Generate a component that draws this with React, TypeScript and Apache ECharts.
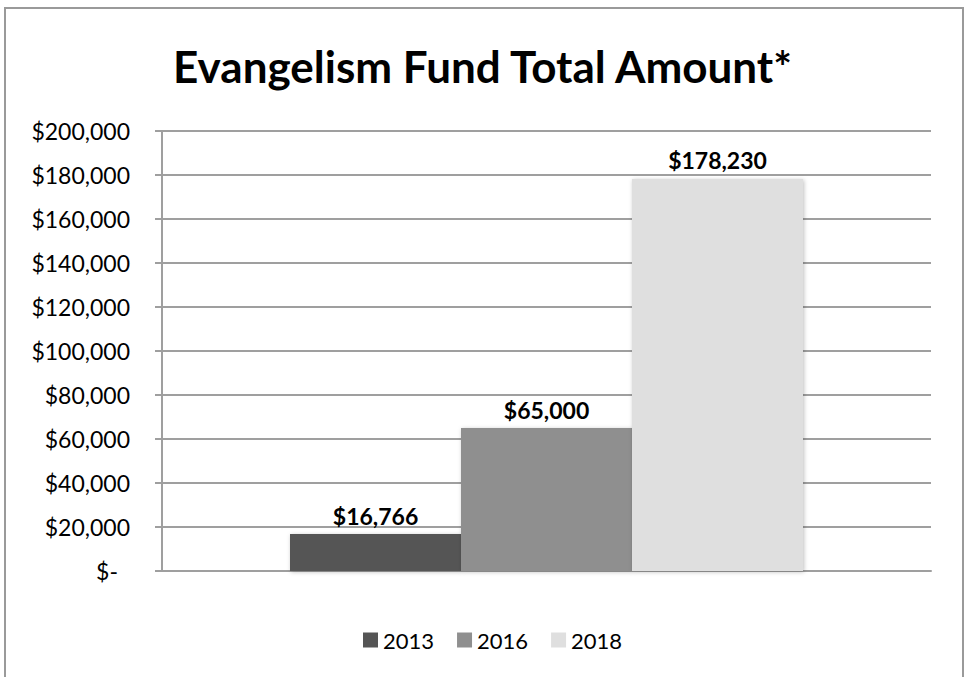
import React, { useEffect, useRef } from "react";
import * as echarts from "echarts";

const titleText = "Evangelism Fund Total Amount*";
const categories = [""];
const seriesNames = ["2013", "2016", "2018"];
const seriesValues = [16766, 65000, 178230];
const seriesColors = ["#555555", "#8f8f8f", "#dfdfdf"];
const yMin = 0;
const yMax = 200000;
const yInterval = 20000;

const FONT = "Lato";

function fmtMoney(v: number): string {
  return "$" + v.toLocaleString("en-US");
}

export default function App() {
  const ref = useRef<HTMLDivElement>(null);
  useEffect(() => {
    if (!ref.current) return;
    const chart = echarts.init(ref.current, null, { renderer: "svg" });
    const option: any = {
      animation: false,
      backgroundColor: "#ffffff",
      textStyle: { fontFamily: FONT, color: "#000" },
      title: {
        text: titleText,
        left: "center",
        top: 39,
        textStyle: { fontFamily: FONT, fontSize: 44, fontWeight: "bold", color: "#000" },
      },
      graphic: [
        {
          type: "rect",
          shape: { x: 5, y: 8, width: 958, height: 720 },
          style: { fill: "none", stroke: "#9a9a9a", lineWidth: 2 },
          z: 100,
          silent: true,
        },
      ],
      legend: {
        left: 358,
        top: 624,
        itemWidth: 15,
        itemHeight: 15,
        itemGap: 23,
        icon: "rect",
        textStyle: { fontFamily: FONT, fontSize: 22, color: "#000" },
        data: seriesNames,
      },
      grid: { left: 162, right: 34, top: 131, bottom: 106, containLabel: false },
      xAxis: {
        type: "category",
        data: categories,
        axisLine: { show: true, lineStyle: { color: "#9f9f9f", width: 2 } },
        axisTick: { show: false },
        axisLabel: { show: false },
      },
      yAxis: {
        type: "value",
        min: yMin,
        max: yMax,
        interval: yInterval,
        axisLine: { show: true, lineStyle: { color: "#9f9f9f", width: 2 } },
        axisTick: { show: true, length: 7, lineStyle: { color: "#9f9f9f", width: 2 } },
        splitLine: { show: true, lineStyle: { color: "#9f9f9f", width: 2 } },
        axisLabel: {
          margin: 32,
          fontFamily: FONT,
          fontSize: 23,
          color: "#000",
          formatter: (v: number) => (v === 0 ? "{z|$-}" : fmtMoney(v)),
          rich: { z: { fontFamily: FONT, fontSize: 23, color: "#000", padding: [0, 12, 0, 0] } },
        },
      },
      series: seriesNames.map((name, i) => ({
        name,
        type: "bar",
        barGap: "0%",
        barWidth: 171,
        data: [seriesValues[i]],
        itemStyle: {
          color: seriesColors[i],
          shadowBlur: 4,
          shadowColor: "rgba(0,0,0,0.25)",
          shadowOffsetX: 1,
          shadowOffsetY: 1,
        },
        label: {
          show: true,
          position: "top",
          distance: 7,
          fontFamily: FONT,
          fontSize: 23,
          fontWeight: "bold",
          color: "#000",
          formatter: (p: any) => fmtMoney(p.value),
        },
      })),
    };
    chart.setOption(option);
    return () => chart.dispose();
  }, []);
  return (
    <div
      ref={ref}
      style={{ position: "fixed", left: 0, top: 0, width: 965, height: 677 }}
    />
  );
}
